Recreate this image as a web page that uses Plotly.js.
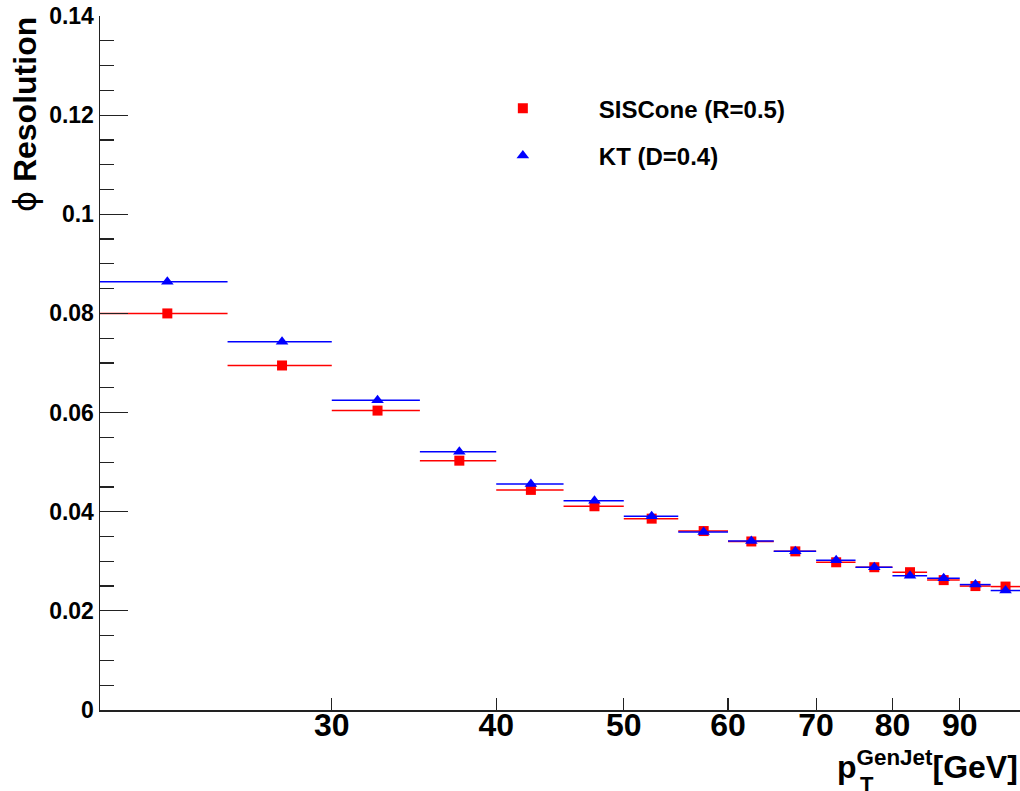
<!DOCTYPE html>
<html>
<head>
<meta charset="utf-8">
<script src="https://cdn.plot.ly/plotly-3.0.1.min.js"></script>
<style>html,body{margin:0;padding:0;background:#fff;}#chart{width:1020px;height:791px;}</style>
</head>
<body>
<div id="chart"></div>
<script>
// pT bins (GeV): centers and half-widths
var binCenters = [22.5, 27.5, 32.5, 37.5, 42.5, 47.5, 52.5, 57.5, 62.5, 67.5, 72.5, 77.5, 82.5, 87.5, 92.5, 97.5];
var binHalfWidths = [2.5, 2.5, 2.5, 2.5, 2.5, 2.5, 2.5, 2.5, 2.5, 2.5, 2.5, 2.5, 2.5, 2.5, 2.5, 2.5];
// phi resolution values
var sisconeRes = [0.0800, 0.0695, 0.0604, 0.0503, 0.0444, 0.0411, 0.0386, 0.0361, 0.0340, 0.0320, 0.0298, 0.0288, 0.0278, 0.0262, 0.0250, 0.0249];
var ktRes      = [0.0864, 0.0743, 0.0625, 0.0521, 0.0456, 0.0422, 0.0391, 0.0359, 0.0341, 0.0320, 0.0302, 0.0288, 0.0271, 0.0266, 0.0253, 0.0241];
// axis ticks
var xTickVals = [30, 40, 50, 60, 70, 80, 90];
var xTickText = ["30", "40", "50", "60", "70", "80", "90"];
var yTickVals = [0, 0.02, 0.04, 0.06, 0.08, 0.1, 0.12, 0.14];
var yTickText = ["0", "0.02", "0.04", "0.06", "0.08", "0.1", "0.12", "0.14"];

var FONT = "Liberation Sans, Arial, Helvetica, sans-serif";
var xRange = [Math.log10(20), 2];

var traces = [
  {
    x: binCenters, y: sisconeRes, type: "scatter", mode: "markers",
    name: "SISCone (R=0.5)", legendgroup: "a",
    marker: {symbol: "square", size: 10, color: "#ff0000"},
    error_x: {type: "data", array: binHalfWidths, symmetric: true, color: "#ff0000", thickness: 1.5, width: 0}
  },
  {
    x: binCenters, y: ktRes, type: "scatter", mode: "markers",
    name: "KT (D=0.4)", legendgroup: "b",
    marker: {symbol: "triangle-up", size: 11, color: "#0000ff"},
    error_x: {type: "data", array: binHalfWidths, symmetric: true, color: "#0000ff", thickness: 1.5, width: 0}
  },
  {
    // carrier so the tick-label axis (x2) is drawn; draws nothing itself
    x: binCenters, y: sisconeRes, xaxis: "x2", yaxis: "y", type: "scatter", mode: "none",
    showlegend: false, hoverinfo: "skip"
  }
];

var layout = {
  width: 1020, height: 791,
  margin: {l: 100, r: 0, t: 16, b: 81, pad: 0},
  paper_bgcolor: "#ffffff", plot_bgcolor: "#ffffff",
  font: {family: FONT, color: "#000000"},
  showlegend: true,
  legend: {
    x: 0.377, y: 0.899, xanchor: "left", yanchor: "top",
    bgcolor: "rgba(0,0,0,0)", borderwidth: 0,
    itemwidth: 142, tracegroupgap: 13, traceorder: "grouped",
    font: {family: FONT, size: 24, weight: "bold", color: "#000"}
  },
  xaxis: {
    type: "log", range: xRange,
    tickmode: "array", tickvals: xTickVals, ticktext: xTickText, showticklabels: false,
    ticks: "inside", ticklen: 12, tickwidth: 1.2, tickcolor: "#222",
    showline: true, linecolor: "#222", linewidth: 1.5,
    showgrid: false, zeroline: false
  },
  xaxis2: {
    type: "log", range: xRange, overlaying: "x", anchor: "free", position: 0.0101, side: "bottom",
    tickmode: "array", tickvals: xTickVals, ticktext: xTickText,
    ticks: "", showline: false, showgrid: false, zeroline: false,
    tickfont: {family: FONT, size: 32, weight: "bold", color: "#000"}
  },
  yaxis: {
    range: [0, 0.14],
    tickmode: "array", tickvals: yTickVals, ticktext: yTickText,
    ticks: "inside", ticklen: 28, tickwidth: 1.2, tickcolor: "#222",
    minor: {ticks: "inside", ticklen: 14, tickwidth: 1.2, tickcolor: "#222", tick0: 0, dtick: 0.005, showgrid: false},
    showline: true, linecolor: "#222", linewidth: 1.5,
    showgrid: false, zeroline: false,
    tickfont: {family: FONT, size: 23, weight: "bold", color: "#000"}
  },
  annotations: [
    {
      xref: "paper", yref: "paper", x: -0.082, y: 0.858, xanchor: "center", yanchor: "middle",
      textangle: -90, showarrow: false,
      text: "<span style='font-weight:normal;font-family:DejaVu Sans'>ϕ</span> Resolution",
      font: {family: FONT, size: 32, weight: "bold", color: "#000"}
    },
    {
      xref: "paper", yref: "paper", x: 1, y: -0.079, xanchor: "right", yanchor: "middle",
      showarrow: false,
      text: "p<sup>GenJet</sup>[GeV]",
      font: {family: FONT, size: 32, weight: "bold", color: "#000"}
    },
    {
      xref: "paper", yref: "paper", x: 0.824, y: -0.108, xanchor: "left", yanchor: "middle",
      showarrow: false,
      text: "T",
      font: {family: FONT, size: 22, weight: "bold", color: "#000"}
    }
  ]
};

Plotly.newPlot("chart", traces, layout, {displayModeBar: false, staticPlot: true});
</script>
</body>
</html>
